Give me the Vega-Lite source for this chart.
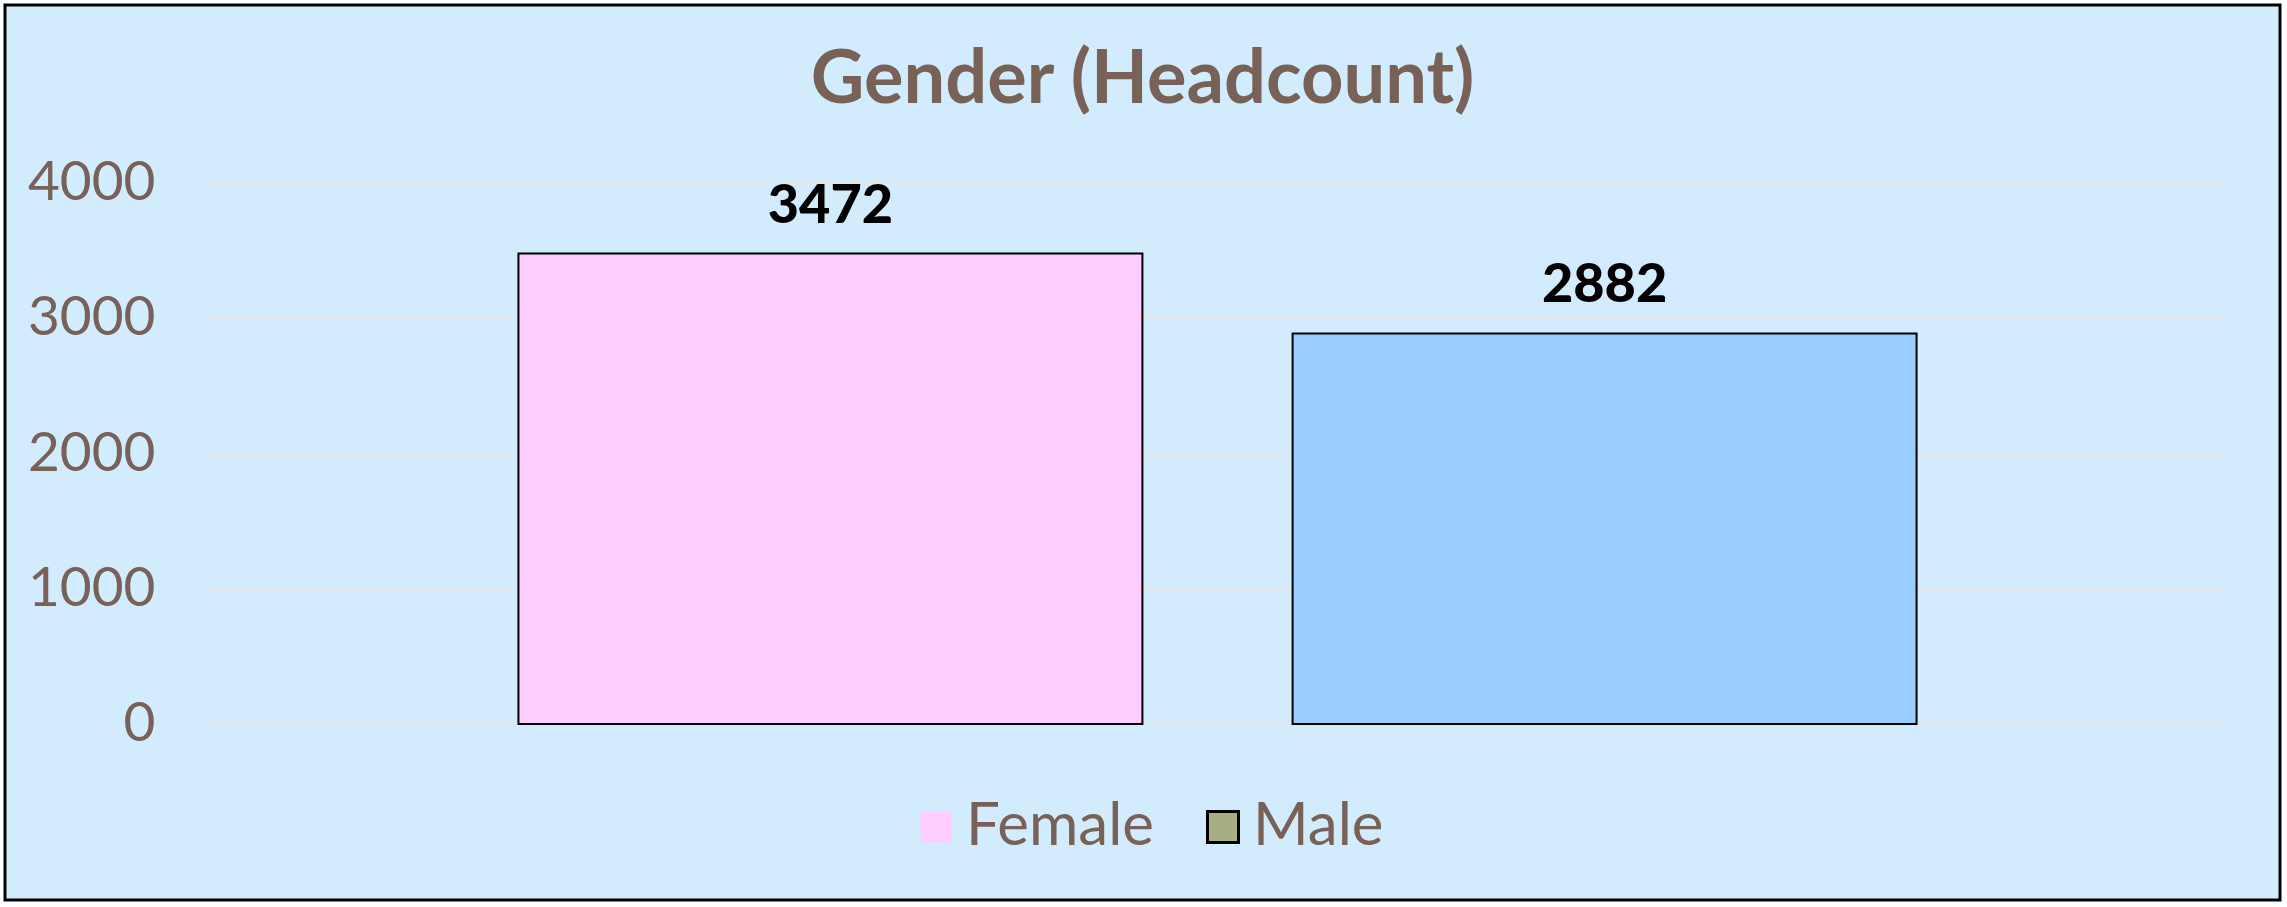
{
  "$schema": "https://vega.github.io/schema/vega-lite/v6.json",
  "autosize": {"type": "fit", "contains": "padding"},
  "width": 2287,
  "height": 907,
  "padding": {"left": 5, "top": 5, "right": 7, "bottom": 7},
  "background": "#FFFFFF",
  "title": {
    "text": "Gender (Headcount)",
    "orient": "top",
    "anchor": "middle",
    "frame": "group",
    "offset": -172,
    "baseline": "alphabetic",
    "font": "Lato",
    "fontSize": 74,
    "fontWeight": "bold",
    "color": "#786156"
  },
  "config": {
    "view": {"fill": "#D2ECFE", "stroke": "#000000", "strokeWidth": 3},
    "font": "Lato",
    "legend": {
      "orient": "none",
      "direction": "horizontal",
      "title": null,
      "padding": 0,
      "symbolType": "square",
      "symbolSize": 961,
      "symbolOpacity": 1,
      "labelFont": "Lato",
      "labelFontSize": 60,
      "labelColor": "#786156",
      "labelLimit": 500,
      "labelOffset": 0
    }
  },
  "data": {
    "values": [
      {"gender": "Female", "headcount": 3472},
      {"gender": "Male", "headcount": 2882}
    ]
  },
  "encoding": {
    "x": {
      "field": "gender",
      "type": "nominal",
      "sort": ["Female", "Male"],
      "scale": {"range": [203, 2222], "paddingInner": 0.194, "paddingOuter": 0.401},
      "axis": null
    },
    "y": {
      "field": "headcount",
      "type": "quantitative",
      "scale": {"domain": [-1298.9, 5306.3], "nice": false, "zero": false},
      "axis": {
        "title": null,
        "values": [0, 1000, 2000, 3000, 4000],
        "format": "d",
        "offset": -150,
        "ticks": false,
        "tickSize": 0,
        "domain": false,
        "labelPadding": 0,
        "labelFont": "Lato",
        "labelFontSize": 55,
        "labelColor": "#786156",
        "grid": true,
        "gridColor": "#E7E3E0",
        "gridWidth": 2
      }
    }
  },
  "layer": [
    {
      "mark": {"type": "bar", "stroke": "#000000", "strokeWidth": 2},
      "encoding": {
        "color": {
          "field": "gender",
          "type": "nominal",
          "scale": {"domain": ["Female", "Male"], "range": ["#FFCCFF", "#99CCFF"]},
          "legend": null
        }
      }
    },
    {
      "transform": [{"filter": "datum.gender === 'Female'"}],
      "mark": {"type": "square", "filled": true, "opacity": 0},
      "encoding": {
        "color": {
          "field": "gender",
          "type": "nominal",
          "scale": {"domain": ["Female"], "range": ["#FFCCFF"]},
          "legend": {
            "legendX": 901,
            "legendY": 792,
            "symbolStrokeWidth": 0
          }
        }
      }
    },
    {
      "transform": [{"filter": "datum.gender === 'Male'"}],
      "mark": {"type": "square", "filled": true, "opacity": 0, "stroke": "#000000"},
      "encoding": {
        "color": {
          "field": "gender",
          "type": "nominal",
          "scale": {"domain": ["Male"], "range": ["#A6AE82"]},
          "legend": {
            "legendX": 1188,
            "legendY": 792,
            "symbolStrokeWidth": 3,
            "symbolStrokeColor": "#000000"
          }
        }
      }
    },
    {
      "mark": {
        "type": "text",
        "baseline": "alphabetic",
        "align": "center",
        "dy": -31,
        "font": "Lato",
        "fontSize": 54,
        "fontWeight": 900,
        "color": "#000000"
      },
      "encoding": {
        "text": {"field": "headcount", "type": "quantitative"}
      }
    }
  ],
  "resolve": {"scale": {"color": "independent"}, "legend": {"color": "independent"}}
}
